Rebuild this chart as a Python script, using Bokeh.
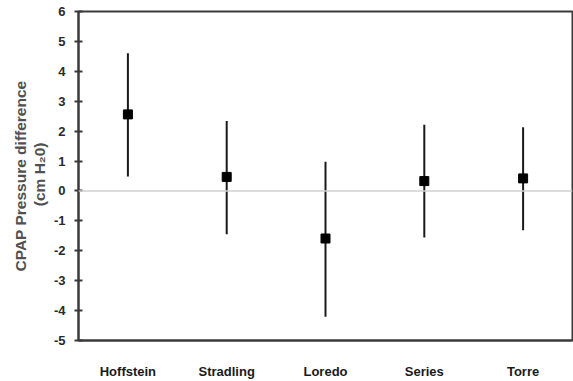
from bokeh.plotting import figure
from bokeh.models import Range1d, FixedTicker, Span, Title
from bokeh.embed import file_html
from bokeh.resources import INLINE

studies = ["Hoffstein", "Stradling", "Loredo", "Series", "Torre"]
mean_diff = [2.56, 0.47, -1.59, 0.33, 0.42]
upper = [4.60, 2.34, 0.98, 2.21, 2.13]
lower = [0.48, -1.45, -4.21, -1.56, -1.31]
y_ticks = [-5, -4, -3, -2, -1, 0, 1, 2, 3, 4, 5, 6]
y_title_1 = "CPAP Pressure difference"
y_title_2 = "(cm H\u20820)"

xpos = [i + 0.5 for i in range(len(studies))]

W, H = 573, 381
p = figure(width=W, height=H, output_backend="svg", toolbar_location=None,
           x_range=Range1d(0, len(studies)), y_range=Range1d(-5, 6),
           min_border_left=78, min_border_right=1, min_border_top=11, min_border_bottom=41)

p.xgrid.grid_line_color = None
p.ygrid.grid_line_color = None
p.outline_line_color = "#3a3a3a"
p.outline_line_width = 2
p.background_fill_color = "white"
p.border_fill_color = "white"

ya = p.yaxis[0]
ya.ticker = FixedTicker(ticks=y_ticks)
ya.major_label_overrides = {t: str(t) for t in y_ticks}
ya.axis_line_color = "#3a3a3a"
ya.axis_line_width = 2
ya.major_tick_line_color = "#3a3a3a"
ya.major_tick_line_width = 2
ya.major_tick_in = 4
ya.major_tick_out = 4
ya.minor_tick_line_color = None
ya.major_label_text_font = "Liberation Sans"
ya.major_label_text_font_style = "bold"
ya.major_label_text_font_size = "13px"
ya.major_label_text_color = "#2a2a2a"
ya.major_label_standoff = 9

xa = p.xaxis[0]
xa.ticker = FixedTicker(ticks=xpos)
xa.major_label_overrides = {x: s for x, s in zip(xpos, studies)}
xa.axis_line_color = "#3a3a3a"
xa.axis_line_width = 2
xa.major_tick_line_color = None
xa.minor_tick_line_color = None
xa.major_label_text_font = "Liberation Sans"
xa.major_label_text_font_style = "bold"
xa.major_label_text_font_size = "13px"
xa.major_label_text_color = "#1a1a1a"
xa.major_label_standoff = 17

p.add_layout(Span(location=0, dimension="width", line_color="#d0d0d0", line_width=1.5))

p.segment(x0=xpos, y0=lower, x1=xpos, y1=upper, line_color="#1a1a1a", line_width=2)
p.scatter(x=xpos, y=mean_diff, marker="square", size=9, fill_color="black", line_color="black")

p.add_layout(Title(text=y_title_2, align="right", offset=131, standoff=3,
                   vertical_align="middle",
                   text_font="Liberation Sans", text_font_style="bold",
                   text_font_size="15.5px", text_color="#505050"), "left")
p.add_layout(Title(text=y_title_1, align="center", standoff=0,
                   vertical_align="bottom",
                   text_font="Liberation Sans", text_font_style="bold",
                   text_font_size="15.5px", text_color="#505050"), "left")

open("out.html", "w").write(file_html(p, INLINE))
